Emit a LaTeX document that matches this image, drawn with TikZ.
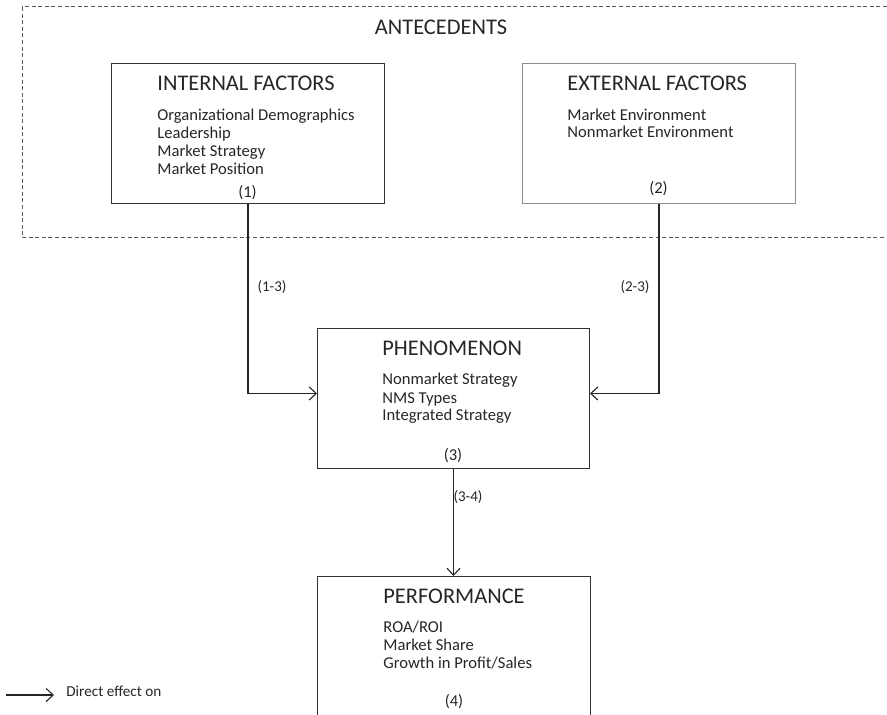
\documentclass[tikz,border=0pt]{standalone}
\usepackage{fontspec}
\setmainfont{Carlito}
\usetikzlibrary{arrows.meta,calc}
\begin{document}
\begin{tikzpicture}[x=0.5pt,y=-0.5pt,
  box/.style={draw=black!80, line width=0.5pt, inner sep=0pt, anchor=north west, minimum width=136.5pt, minimum height=70pt},
  ttl/.style={anchor=base west, inner sep=0pt, font=\fontsize{11.2}{13}\selectfont, text=black!85},
  itm/.style={anchor=base west, inner sep=0pt, font=\fontsize{8.3}{10}\selectfont, text=black!85},
  num/.style={anchor=base, inner sep=0pt, font=\fontsize{8.3}{10}\selectfont, text=black!85},
  lbl/.style={inner sep=0pt, font=\fontsize{7.5}{9}\selectfont, text=black!85},
  conn/.style={draw=black!85, line width=0.55pt, -{Straight Barb[length=3.5pt,width=6.5pt]}},
  dashbox/.style={draw=black!65, line width=0.5pt, dash pattern=on 2pt off 1.3pt}
]
\clip (0,0) rectangle (887,715);

% antecedents frame
\draw[dashbox] (22,7) rectangle (900,238);
\node[ttl, anchor=base] (ant) at (441,35) {ANTECEDENTS};

% boxes
\node[box] (int) at (111,63) {};
\node[box, draw=black!45] (ext) at (522,63) {};
\node[box, minimum width=136pt] (phen) at (317,328) {};
\node[box, minimum width=136.5pt, minimum height=71pt] (perf) at (317,576) {};

% internal
\node[ttl] (intT) at (157,91) {INTERNAL FACTORS};
\node[itm] (int1) at (157,121) {Organizational Demographics};
\node[itm] (int2) at (157,138.7) {Leadership};
\node[itm] (int3) at (157,156.4) {Market Strategy};
\node[itm] (int4) at (157,174.1) {Market Position};
\node[num] (intN) at (247.5,198) {(1)};

% external
\node[ttl] (extT) at (567,91) {EXTERNAL FACTORS};
\node[itm] (ext1) at (567,120.5) {Market Environment};
\node[itm] (ext2) at (567,138) {Nonmarket Environment};
\node[num] (extN) at (658.5,194) {(2)};

% phenomenon
\node[ttl] (phenT) at (382,356) {PHENOMENON};
\node[itm] (phen1) at (382,385) {Nonmarket Strategy};
\node[itm] (phen2) at (382,403) {NMS Types};
\node[itm] (phen3) at (382,421) {Integrated Strategy};
\node[num] (phenN) at (453,460.5) {(3)};

% performance
\node[ttl] (perfT) at (383,603) {PERFORMANCE};
\node[itm] (perf1) at (383,632.7) {ROA/ROI};
\node[itm] (perf2) at (383,650.5) {Market Share};
\node[itm] (perf3) at (383,668.3) {Growth in Profit/Sales};
\node[num] (perfN) at (454,706.7) {(4)};

% connectors
\draw[conn] (int.south) |- ($(phen.west)+(0,-5)$);
\draw[conn] (ext.south) |- ($(phen.east)+(0,-5)$);
\draw[conn] (phen.south) -- (phen.south |- perf.north);

\node[lbl] (l13) at (272,287) {(1-3)};
\node[lbl] (l23) at (635,287) {(2-3)};
\node[lbl] (l34) at (468,497) {(3-4)};

% legend
\coordinate (la) at (6,695);
\coordinate (lb) at (54,695);
\draw[conn] (la) -- (lb);
\node[itm, font=\fontsize{7.6}{9}\selectfont] (leg) at (66,696) {Direct effect on};
\end{tikzpicture}
\end{document}
